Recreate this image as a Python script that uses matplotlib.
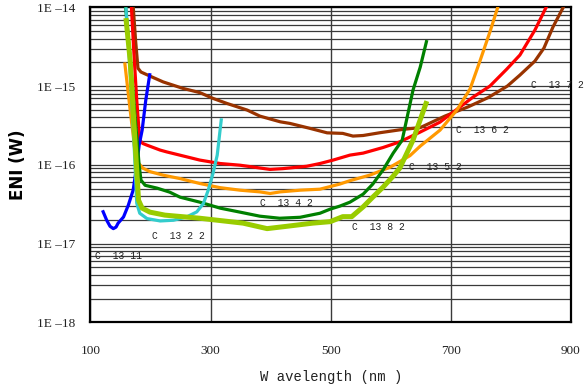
import math
import matplotlib
matplotlib.use("Agg")
import matplotlib.pyplot as plt
from matplotlib.ticker import FixedLocator, LogLocator, FuncFormatter, NullFormatter

# Equivalent noise input (W) versus wavelength (nm) for each photodiode type
c1311_wl = [120, 127, 132.5, 138, 142.5, 146, 155, 163, 171, 176, 181, 186, 192, 199]
c1311_eni = [2.65e-17, 1.98e-17, 1.66e-17, 1.55e-17, 1.62e-17, 1.82e-17, 2.18e-17, 3.08e-17,
             4.77e-17, 8.6e-17, 1.78e-16, 2.76e-16, 6.6e-16, 1.46e-15]

c1322_wl = [159, 167, 173, 177, 182, 194, 216, 238, 260, 277, 288, 296, 304, 311, 318]
c1322_eni = [1.0e-14, 1.19e-15, 1.54e-16, 3.26e-17, 2.43e-17, 2.08e-17, 1.94e-17, 1.98e-17,
             2.18e-17, 2.53e-17, 3.23e-17, 4.77e-17, 7.8e-17, 1.33e-16, 3.9e-16]

c1342_wl = [158, 172, 181, 184, 191, 211, 232, 249, 282, 316, 349, 382, 415, 449, 482, 499,
            515, 532, 554, 570, 587, 604, 619, 637, 649, 660]
c1342_eni = [1.1e-14, 6.6e-16, 9.9e-17, 6.4e-17, 5.5e-17, 5.06e-17, 4.5e-17, 3.89e-17, 3.36e-17,
             2.82e-17, 2.51e-17, 2.23e-17, 2.1e-17, 2.16e-17, 2.43e-17, 2.74e-17, 2.99e-17,
             3.36e-17, 4.25e-17, 5.7e-17, 8.6e-17, 1.41e-16, 2.06e-16, 8.9e-16, 1.74e-15, 3.84e-15]

c1352_wl = [157, 166, 174, 180, 187, 199, 221, 249, 282, 316, 349, 382, 399, 416, 449, 482,
            515, 532, 565, 599, 632, 649, 682, 710, 732, 749, 765, 779]
c1352_eni = [2.0e-15, 5.0e-16, 1.54e-16, 1.05e-16, 9.1e-17, 8.2e-17, 7.4e-17, 6.7e-17, 5.8e-17,
             5.13e-17, 4.77e-17, 4.54e-17, 4.33e-17, 4.54e-17, 4.77e-17, 4.91e-17, 5.7e-17,
             6.3e-17, 7.4e-17, 9.35e-17, 1.31e-16, 1.73e-16, 2.76e-16, 4.96e-16, 9.2e-16,
             2.14e-15, 4.86e-15, 1.05e-14]

c1362_wl = [168, 172, 177, 182, 187, 194, 216, 227, 261, 282, 316, 349, 399, 420, 460, 482,
            504, 532, 554, 587, 615, 649, 682, 704, 737, 765, 793, 815, 840, 860]
c1362_eni = [1.05e-14, 2.87e-15, 6.6e-16, 2.06e-16, 1.87e-16, 1.78e-16, 1.54e-16, 1.46e-16,
             1.26e-16, 1.15e-16, 1.04e-16, 9.9e-17, 8.75e-17, 8.95e-17, 9.6e-17, 1.04e-16,
             1.15e-16, 1.33e-16, 1.41e-16, 1.66e-16, 1.96e-16, 2.61e-16, 3.49e-16, 4.68e-16,
             7.25e-16, 1.0e-15, 1.64e-15, 2.48e-15, 5.15e-15, 1.05e-14]

c1372_wl = [171, 175, 179, 184, 199, 221, 254, 282, 304, 327, 361, 382, 416, 432, 466, 494,
            520, 537, 554, 582, 620, 649, 690, 729, 762, 794, 815, 840, 855, 870, 888]
c1372_eni = [1.05e-14, 3.84e-15, 1.69e-15, 1.51e-15, 1.34e-15, 1.13e-15, 9.35e-16, 8.27e-16,
             6.98e-16, 6.03e-16, 4.96e-16, 4.16e-16, 3.52e-16, 3.36e-16, 2.9e-16, 2.55e-16,
             2.51e-16, 2.32e-16, 2.36e-16, 2.56e-16, 2.82e-16, 2.97e-16, 4.16e-16, 5.46e-16,
             7.14e-16, 1.0e-15, 1.38e-15, 2.08e-15, 3.04e-15, 5.62e-15, 1.03e-14]

c1382_wl = [159, 166, 172, 177, 180, 186, 199, 224, 282, 354, 394, 427, 470, 499, 520, 535,
            554, 570, 587, 604, 615, 637, 660]
c1382_eni = [7.3e-15, 2.14e-15, 3.7e-16, 8.6e-17, 3.56e-17, 2.82e-17, 2.51e-17, 2.3e-17, 2.1e-17,
             1.82e-17, 1.55e-17, 1.66e-17, 1.82e-17, 1.9e-17, 2.2e-17, 2.2e-17, 2.93e-17,
             3.89e-17, 5.2e-17, 7.2e-17, 9.1e-17, 2.06e-16, 6.45e-16]

# Series label text and the point where each label sits
label_text = ["C  13 11", "C  13 2 2", "C  13 4 2", "C  13 8 2", "C  13 5 2", "C  13 6 2", "C  13 7 2"]
label_wl = [107, 202, 382, 535, 630, 708, 833]
label_eni = [6.9e-18, 1.24e-17, 3.26e-17, 1.62e-17, 9.35e-17, 2.76e-16, 1.03e-15]

x_ticks = [100, 300, 500, 700, 900]
y_ticks = [1e-18, 1e-17, 1e-16, 1e-15, 1e-14]

fig = plt.figure(figsize=(5.85, 3.87), dpi=100)
ax = fig.add_axes([0.1547, 0.167, 0.8213, 0.814])

series = [
    (c1372_wl, c1372_eni, "#993300", 2.3),
    (c1362_wl, c1362_eni, "#FF0000", 2.3),
    (c1352_wl, c1352_eni, "#FF9900", 2.3),
    (c1311_wl, c1311_eni, "#0000FF", 2.3),
    (c1342_wl, c1342_eni, "#008000", 2.3),
    (c1322_wl, c1322_eni, "#33CCCC", 2.3),
    (c1382_wl, c1382_eni, "#99CC00", 3.6),
]
for wl, eni, col, lw in series:
    ax.plot(wl, eni, color=col, lw=lw, solid_joinstyle="round", solid_capstyle="butt", zorder=3)

ax.set_yscale("log")
ax.set_xlim(100, 900)
ax.set_ylim(1e-18, 1e-14)

ax.xaxis.set_major_locator(FixedLocator(x_ticks))
ax.yaxis.set_major_locator(FixedLocator(y_ticks))
ax.yaxis.set_minor_locator(LogLocator(base=10, subs=range(2, 10)))
ax.yaxis.set_minor_formatter(NullFormatter())


def fmt_exp(v, pos):
    return "1E \u2013%d" % round(-math.log10(v))


ax.yaxis.set_major_formatter(FuncFormatter(fmt_exp))

ax.grid(True, axis="y", which="both", color="#3a3a3a", lw=0.9, zorder=1)
ax.grid(True, axis="x", which="major", color="#3a3a3a", lw=1.0, zorder=1)
ax.set_axisbelow(True)

ax.tick_params(axis="both", which="both", length=0)
ax.tick_params(axis="x", pad=16)
ax.tick_params(axis="y", pad=11)
for lab in ax.get_xticklabels() + ax.get_yticklabels():
    lab.set_fontfamily("Liberation Serif")
    lab.set_fontsize(9.5)
    lab.set_color("#222222")

for sp in ax.spines.values():
    sp.set_linewidth(1.6)
    sp.set_color("black")

ax.set_xlabel("W avelength (nm )", fontfamily="Liberation Mono", fontsize=10, color="#222222",
              labelpad=10)
fig.text(0.03, 0.574, "ENI (W)", rotation=90, fontsize=12, fontweight="bold",
         ha="center", va="center", color="black")

for txt, wl, eni in zip(label_text, label_wl, label_eni):
    ax.text(wl, eni, txt, fontfamily="Liberation Mono", fontsize=7, color="#222222",
            ha="left", va="center", zorder=5, clip_on=False)

fig.savefig("out.png", dpi=100)
